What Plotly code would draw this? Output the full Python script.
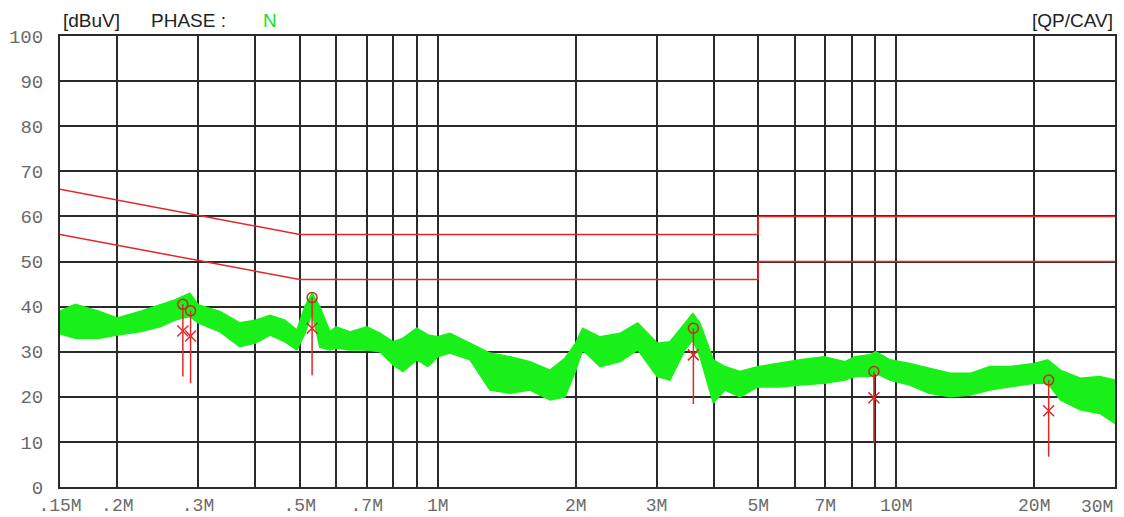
import math
import plotly.graph_objects as go

freq_mhz = [0.150, 0.162, 0.183, 0.200, 0.224, 0.248, 0.267, 0.288, 0.300, 0.335,
            0.370, 0.400, 0.431, 0.464, 0.493, 0.513, 0.532, 0.553, 0.582, 0.600,
            0.644, 0.700, 0.748, 0.800, 0.840, 0.900, 0.952, 1.00, 1.063, 1.176,
            1.300, 1.437, 1.589, 1.758, 1.895, 2.00, 2.07, 2.26, 2.50, 2.73,
            3.01, 3.21, 3.46, 3.60, 3.73, 3.99, 4.23, 4.56, 5.00, 5.58,
            6.17, 6.96, 7.73, 8.13, 8.76, 9.03, 9.69, 10.7, 11.8, 13.1,
            14.5, 16.0, 17.7, 20.0, 21.4, 22.8, 25.2, 27.8, 30.0]
upper = [39.0, 40.5, 38.9, 37.5, 38.9, 40.4, 41.5, 43.0, 40.4, 38.9,
         36.4, 37.0, 38.1, 37.0, 34.8, 40.0, 43.0, 40.0, 34.4, 35.5,
         34.4, 35.5, 34.1, 32.2, 33.0, 35.2, 33.7, 33.3, 34.1, 31.9,
         29.7, 28.9, 27.8, 25.9, 28.6, 31.9, 35.2, 33.3, 34.1, 36.4,
         31.9, 32.2, 36.4, 38.5, 36.4, 28.2, 26.7, 25.6, 26.7, 27.5,
         28.2, 28.9, 27.8, 28.9, 29.3, 30.0, 28.2, 27.4, 26.3, 25.2,
         25.2, 26.7, 26.7, 27.4, 28.2, 25.9, 24.1, 24.5, 23.7]
lower = [34.0, 33.0, 33.0, 33.7, 34.4, 35.5, 37.0, 37.8, 36.4, 34.4,
         31.1, 31.9, 33.7, 32.2, 30.4, 34.0, 38.6, 31.0, 30.4, 30.8,
         30.4, 30.4, 30.0, 27.0, 25.6, 28.2, 26.7, 28.9, 29.7, 28.2,
         21.5, 20.8, 21.5, 19.3, 20.0, 25.9, 30.4, 26.7, 27.8, 30.4,
         24.5, 23.7, 30.4, 32.6, 28.9, 18.6, 21.5, 20.0, 22.2, 22.2,
         22.6, 23.0, 23.7, 24.5, 24.5, 25.2, 23.7, 22.6, 20.8, 20.0,
         20.4, 21.5, 22.2, 23.0, 23.0, 19.3, 17.1, 16.3, 14.1]

# Limit lines
limit_freq = [0.15, 0.5, 5.0, 5.0, 30.0]
qp_limit = [66, 56, 56, 60, 60]
av_limit = [56, 46, 46, 50, 50]

# Final measurement points
peak_freq = [0.278, 0.289, 0.532, 3.61, 8.94, 21.5]
qp_level = [40.5, 39.1, 42.0, 35.2, 25.6, 23.7]
av_level = [34.6, 33.5, 35.2, 29.3, 19.8, 16.9]
stem_low = [24.5, 23.0, 24.8, 18.4, 9.7, 6.7]

tick_vals = [0.15, 0.2, 0.3, 0.4, 0.5, 0.6, 0.7, 0.8, 0.9, 1, 2, 3, 4, 5, 6, 7, 8, 9, 10, 20, 30]
tick_text = [".15M", ".2M", ".3M", "", ".5M", "", ".7M", "", "", "1M",
             "2M", "3M", "", "5M", "", "7M", "", "", "10M", "20M", ""]

GREEN = "#19f019"
RED = "#e02828"
MONO = "Liberation Mono, Courier New, monospace"
SANS = "Liberation Sans, Arial, sans-serif"
LABEL = "#6a6a6a"

fig = go.Figure()

for lim in (qp_limit, av_limit):
    fig.add_trace(go.Scatter(x=limit_freq, y=lim, mode="lines",
                             line=dict(color=RED, width=1.5), hoverinfo="skip"))

fig.add_trace(go.Scatter(x=freq_mhz, y=upper, mode="lines",
                         line=dict(color=GREEN, width=1.5)))
fig.add_trace(go.Scatter(x=freq_mhz, y=lower, mode="lines", fill="tonexty",
                         fillcolor=GREEN, line=dict(color=GREEN, width=1.5)))

# stems from QP point down
sx, sy = [], []
for f, top, bot in zip(peak_freq, qp_level, stem_low):
    sx += [f, f, None]
    sy += [top, bot, None]
fig.add_trace(go.Scatter(x=sx, y=sy, mode="lines", line=dict(color=RED, width=1.5)))

fig.add_trace(go.Scatter(x=peak_freq, y=av_level, mode="markers",
                         marker=dict(symbol="x-thin", size=11, line=dict(color=RED, width=1.5))))
fig.add_trace(go.Scatter(x=peak_freq, y=qp_level, mode="markers",
                         marker=dict(symbol="circle-open", size=10, color="#b8321e",
                                     line=dict(width=1.5))))

pw, ph = 1124 - 60 - 9, 517 - 36 - 30
head_y = (487 - 20) / ph


def head(text, px, color="#222", anchor="left"):
    return dict(text=text, x=(px - 60) / pw, y=head_y, xref="paper", yref="paper",
                xanchor=anchor, yanchor="middle", showarrow=False,
                font=dict(family=SANS, size=19, color=color))


fig.update_layout(
    width=1124, height=517,
    margin=dict(l=60, r=9, t=36, b=30),
    paper_bgcolor="white", plot_bgcolor="white",
    showlegend=False,
    xaxis=dict(type="log", range=[math.log10(0.15), math.log10(30)],
               tickvals=tick_vals, ticktext=tick_text,
               showgrid=True, gridcolor="#2a2a2a", gridwidth=1.5,
               showline=True, linecolor="#2a2a2a", linewidth=2, mirror=True,
               ticks="", ticklabelstandoff=0,
               tickfont=dict(family=MONO, size=18, color=LABEL),
               zeroline=False, automargin=False),
    yaxis=dict(range=[0, 100], tickvals=list(range(0, 101, 10)),
               showgrid=True, gridcolor="#2a2a2a", gridwidth=1.5,
               showline=True, linecolor="#2a2a2a", linewidth=2, mirror=True,
               ticks="", ticklabelstandoff=11,
               tickfont=dict(family=MONO, size=19, color=LABEL),
               zeroline=False, automargin=False),
    annotations=[
        head("[dBuV]", 61),
        head("PHASE :", 149),
        head("N", 261, color="#22dd22"),
        head("[QP/CAV]", 1115, anchor="right"),
        dict(text="30M", x=math.log10(30), y=0, xref="x", yref="paper",
             xanchor="right", yanchor="middle", yshift=-20, showarrow=False,
             font=dict(family=MONO, size=18, color=LABEL)),
    ],
)

fig.write_html("out.html", config={"displayModeBar": False},
               post_script="document.body.style.margin='0';")
